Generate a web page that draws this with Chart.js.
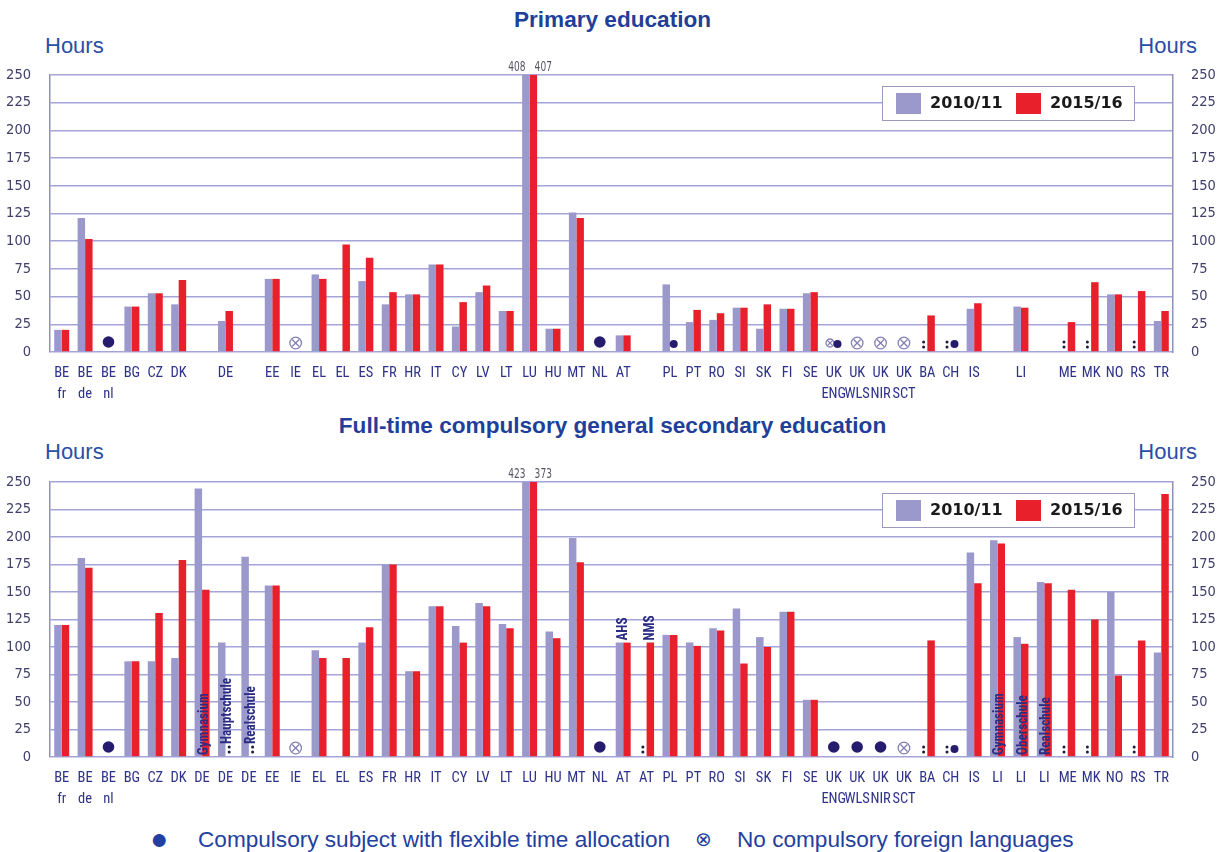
<!DOCTYPE html>
<html>
<head>
<meta charset="utf-8">
<title>Foreign language teaching time</title>
<script src="https://cdn.jsdelivr.net/npm/chart.js"></script>
<style>
  body { margin: 0; background: #fff; }
  #page { position: relative; width: 1225px; height: 852px; overflow: hidden; font-family: "Liberation Sans", Arial, sans-serif; }
  .title { position: absolute; left: 0; width: 1225px; text-align: center; font-weight: bold; font-size: 22.6px; line-height: 22px; color: #1f3f98; }
  .hours { position: absolute; font-size: 22px; line-height: 22px; color: #2a4ea6; }
  .panel { position: absolute; left: 0; width: 1225px; }
  .note { position: absolute; top: 829px; font-size: 22.6px; line-height: 22px; color: #2340a0; white-space: nowrap; }
</style>
</head>
<body>
<div id="page">
  <div class="title" style="top:9px">Primary education</div>
  <div class="hours" style="top:35px; left:45px">Hours</div>
  <div class="hours" style="top:35px; right:28px">Hours</div>
  <div class="panel" style="top:0; height:405px"><canvas id="primary"></canvas></div>

  <div class="title" style="top:415px">Full-time compulsory general secondary education</div>
  <div class="hours" style="top:441px; left:45px">Hours</div>
  <div class="hours" style="top:441px; right:28px">Hours</div>
  <div class="panel" style="top:405px; height:410px"><canvas id="secondary"></canvas></div>

  <span class="note" style="left:150px; top:824px; font-size:30px; line-height:30px">●</span>
  <span class="note" style="left:198px">Compulsory subject with flexible time allocation</span>
  <span class="note" style="left:695px; top:828px; font-family:'DejaVu Sans', sans-serif; font-size:20px">⊗</span>
  <span class="note" style="left:737px">No compulsory foreign languages</span>
</div>

<script>
  const seriesNames = ['2010/11', '2015/16'];

  // Primary education, hours per year
  const primaryLabels = [['BE', 'fr'], ['BE', 'de'], ['BE', 'nl'], 'BG', 'CZ', 'DK', '', 'DE', '', 'EE', 'IE', 'EL', 'EL', 'ES', 'FR', 'HR',
    'IT', 'CY', 'LV', 'LT', 'LU', 'HU', 'MT', 'NL', 'AT', '', 'PL', 'PT', 'RO', 'SI', 'SK', 'FI', 'SE',
    ['UK', 'ENG'], ['UK', 'WLS'], ['UK', 'NIR'], ['UK', 'SCT'], 'BA', 'CH', 'IS', '', 'LI', '', 'ME', 'MK', 'NO', 'RS', 'TR'];
  const primary2010 = [20, 121, null, 41, 53, 43, null, 28, null, 66, null, 70, null, 64, 43, 52,
    79, 23, 54, 37, 408, 21, 126, null, 15, null, 61, 27, 29, 40, 21, 39, 53,
    null, null, null, null, null, null, 39, null, 41, null, null, null, 52, null, 28];
  const primary2015 = [20, 102, null, 41, 53, 65, null, 37, null, 66, null, 66, 97, 85, 54, 52,
    79, 45, 60, 37, 407, 21, 121, null, 15, null, null, 38, 35, 40, 43, 39, 54,
    null, null, null, null, 33, null, 44, null, 40, null, 27, 63, 52, 55, 37];

  // Full-time compulsory general secondary education, hours per year
  const secondaryLabels = [['BE', 'fr'], ['BE', 'de'], ['BE', 'nl'], 'BG', 'CZ', 'DK', 'DE', 'DE', 'DE', 'EE', 'IE', 'EL', 'EL', 'ES', 'FR', 'HR',
    'IT', 'CY', 'LV', 'LT', 'LU', 'HU', 'MT', 'NL', 'AT', 'AT', 'PL', 'PT', 'RO', 'SI', 'SK', 'FI', 'SE',
    ['UK', 'ENG'], ['UK', 'WLS'], ['UK', 'NIR'], ['UK', 'SCT'], 'BA', 'CH', 'IS', 'LI', 'LI', 'LI', 'ME', 'MK', 'NO', 'RS', 'TR'];
  const secondary2010 = [120, 181, null, 87, 87, 90, 244, 104, 182, 156, null, 97, null, 104, 175, 78,
    137, 119, 140, 121, 423, 114, 199, null, 104, null, 111, 104, 117, 135, 109, 132, 52,
    null, null, null, null, null, null, 186, 197, 109, 159, null, null, 150, null, 95];
  const secondary2015 = [120, 172, null, 87, 131, 179, 152, null, null, 156, null, 90, 90, 118, 175, 78,
    137, 104, 137, 117, 373, 108, 177, null, 104, 104, 111, 101, 115, 85, 100, 132, 52,
    null, null, null, null, 106, null, 158, 194, 103, 158, 152, 125, 74, 106, 239];

  // Symbols at the foot of a slot: [slot, bar (0, 1 or 'c' for the middle), kind]
  // flex = flexible time allocation, nolang = no compulsory foreign language, na = not available
  const primaryMarks = [[2, 'c', 'flex'], [10, 'c', 'nolang'], [23, 'c', 'flex'], [26, 1, 'flexS'],
    [33, 0, 'nolangS'], [33, 1, 'flexS'], [34, 'c', 'nolang'], [35, 'c', 'nolang'], [36, 'c', 'nolang'],
    [37, 0, 'na'], [38, 0, 'na'], [38, 1, 'flexS'], [43, 0, 'na'], [44, 0, 'na'], [46, 0, 'na']];
  const secondaryMarks = [[2, 'c', 'flex'], [7, 1, 'na'], [8, 1, 'na'], [10, 'c', 'nolang'], [23, 'c', 'flex'],
    [25, 0, 'na'], [33, 'c', 'flex'], [34, 'c', 'flex'], [35, 'c', 'flex'], [36, 'c', 'nolang'],
    [37, 0, 'na'], [38, 0, 'na'], [38, 1, 'flexS'], [43, 0, 'na'], [44, 0, 'na'], [46, 0, 'na']];

  // School types written up the bars
  const secondaryNotes = [[6, 'Gymnasium', 'base'], [7, 'Hauptschule', 'base'], [8, 'Realschule', 'base'],
    [24, 'AHS', 'top'], [25, 'NMS', 'top'], [40, 'Gymnasium', 'base'], [41, 'Oberschule', 'base'], [42, 'Realschule', 'base']];

  const colours = ['#9b98cb', '#e8202b'];
  const barShare = 0.64;
  const narrow = "'Roboto Condensed', 'Liberation Sans Narrow', 'DejaVu Sans Condensed', sans-serif";
  const condensed = "'DejaVu Sans Condensed', sans-serif";
  const gridColour = '#a4a4d8';
  const frameColour = '#9090b8';

  // text squeezed along its own direction
  function squeezed(ctx, text, x, y, angle, squeeze) {
    ctx.save();
    ctx.translate(x, y);
    ctx.rotate(angle);
    ctx.scale(squeeze, 1);
    ctx.fillText(text, 0, 0);
    ctx.restore();
  }

  const extras = {
    id: 'extras',
    afterDatasetsDraw(chart, args, opts) {
      const { ctx, chartArea } = chart;
      const xs = chart.scales.x, ys = chart.scales.y;
      const n = chart.data.labels.length;
      const bw = (xs.right - xs.left) / n * barShare / 2;
      const base = ys.getPixelForValue(0);
      const sets = chart.data.datasets.map(d => d.data);
      const posX = (i, s) => xs.getPixelForValue(i) + (s === 'c' ? 0 : (s === 0 ? -bw / 2 : bw / 2));

      ctx.save();
      // values beyond the top of the scale
      ctx.font = '14px ' + condensed;
      ctx.fillStyle = '#555566';
      ctx.textBaseline = 'bottom';
      sets.forEach((data, s) => {
        data.forEach((v, i) => {
          if (v == null || v <= ys.max) return;
          const c = xs.getPixelForValue(i);
          ctx.textAlign = s === 0 ? 'right' : 'left';
          squeezed(ctx, String(v), s === 0 ? c - 4 : c + 5, chartArea.top - 1, 0, 0.72);
        });
      });

      // symbols
      (opts.marks || []).forEach(([i, s, kind]) => {
        const cx = posX(i, s);
        if (kind === 'flex' || kind === 'flexS') {
          const r = kind === 'flex' ? 5.8 : 4;
          ctx.fillStyle = '#261c6e';
          ctx.beginPath();
          ctx.arc(cx, base - (kind === 'flex' ? 10 : 8), r, 0, Math.PI * 2);
          ctx.fill();
        } else if (kind === 'nolang' || kind === 'nolangS') {
          const r = kind === 'nolang' ? 5.8 : 4;
          const cy = base - 9;
          const d = r * 0.6;
          ctx.strokeStyle = '#8480b4';
          ctx.lineWidth = 1.3;
          ctx.beginPath();
          ctx.arc(cx, cy, r, 0, Math.PI * 2);
          ctx.moveTo(cx - d, cy - d); ctx.lineTo(cx + d, cy + d);
          ctx.moveTo(cx + d, cy - d); ctx.lineTo(cx - d, cy + d);
          ctx.stroke();
        } else if (kind === 'na') {
          ctx.fillStyle = '#1c1c40';
          [10, 5].forEach(dy => {
            ctx.beginPath();
            ctx.arc(cx, base - dy, 1.5, 0, Math.PI * 2);
            ctx.fill();
          });
        }
      });

      // school types, written bottom to top
      ctx.font = 'bold 15px ' + narrow;
      ctx.fillStyle = '#2b2d82';
      ctx.textAlign = 'left';
      ctx.textBaseline = 'middle';
      (opts.notes || []).forEach(([i, text, where]) => {
        let x, y;
        if (where === 'top') {
          const a = sets[0][i], b = sets[1][i];
          x = a != null && b != null ? posX(i, 'c') : posX(i, a != null ? 0 : 1);
          y = ys.getPixelForValue(Math.max(a ?? 0, b ?? 0)) - 2;
        } else {
          const lifted = (opts.marks || []).some(m => m[0] === i && m[2] === 'na');
          x = posX(i, 'c') + 2;
          y = base - (lifted ? 13 : 2);
        }
        squeezed(ctx, text, x, y, -Math.PI / 2, 0.88);
      });
      ctx.restore();
    },
    afterDraw(chart) {
      // boxed legend in the upper right of the plot
      const { ctx, chartArea } = chart;
      const w = 252, h = 34;
      const bx = chartArea.right - 39 - w, by = chartArea.top + 11;
      ctx.save();
      ctx.fillStyle = '#ffffff';
      ctx.fillRect(bx, by, w, h);
      ctx.strokeStyle = '#9a9ac0';
      ctx.lineWidth = 1;
      ctx.strokeRect(bx + 0.5, by + 0.5, w, h);
      ctx.font = "bold 16px 'DejaVu Sans', sans-serif";
      ctx.textBaseline = 'middle';
      ctx.textAlign = 'left';
      chart.data.datasets.forEach((d, k) => {
        const sx = bx + 14 + k * 120;
        ctx.fillStyle = d.backgroundColor;
        ctx.fillRect(sx, by + 7, 25, 21);
        ctx.fillStyle = '#1a1a1a';
        ctx.fillText(d.label, sx + 34, by + h / 2 + 1);
      });
      ctx.restore();
    }
  };

  function makeChart(id, labels, older, newer, marks, notes, axisHeight) {
    const yTicks = { stepSize: 25, color: '#40406a', font: { family: condensed, size: 14.5 } };
    return new Chart(document.getElementById(id), {
      type: 'bar',
      data: {
        labels: labels,
        datasets: [
          { label: seriesNames[0], data: older, backgroundColor: colours[0] },
          { label: seriesNames[1], data: newer, backgroundColor: colours[1] }
        ]
      },
      options: {
        responsive: true,
        maintainAspectRatio: false,
        animation: false,
        layout: { padding: { top: id === 'primary' ? 75 : 77 } },
        datasets: { bar: { categoryPercentage: barShare, barPercentage: 1, clip: 0 } },
        plugins: {
          legend: { display: false },
          tooltip: { enabled: false },
          extras: { marks: marks, notes: notes }
        },
        scales: {
          x: {
            grid: { display: false, drawTicks: false },
            border: { display: false },
            ticks: {
              autoSkip: false, maxRotation: 0, minRotation: 0, padding: 10,
              color: '#2e3288', font: { family: narrow, size: 14.5, lineHeight: 1.5 }
            },
            afterFit: s => { s.height = axisHeight; }
          },
          y: {
            position: 'left', min: 0, max: 250,
            grid: { color: gridColour, lineWidth: 1.5, drawTicks: false },
            border: { display: true, color: frameColour, width: 1.5 },
            ticks: { ...yTicks, padding: 19 },
            afterFit: s => { s.width = 50; }
          },
          y2: {
            position: 'right', min: 0, max: 250,
            grid: { display: false, drawTicks: false },
            border: { display: true, color: frameColour, width: 1.5 },
            ticks: { ...yTicks, padding: 18 },
            afterFit: s => { s.width = 52; }
          }
        }
      },
      plugins: [extras]
    });
  }

  makeChart('primary', primaryLabels, primary2010, primary2015, primaryMarks, [], 53);
  makeChart('secondary', secondaryLabels, secondary2010, secondary2015, secondaryMarks, secondaryNotes, 58);
</script>
</body>
</html>
